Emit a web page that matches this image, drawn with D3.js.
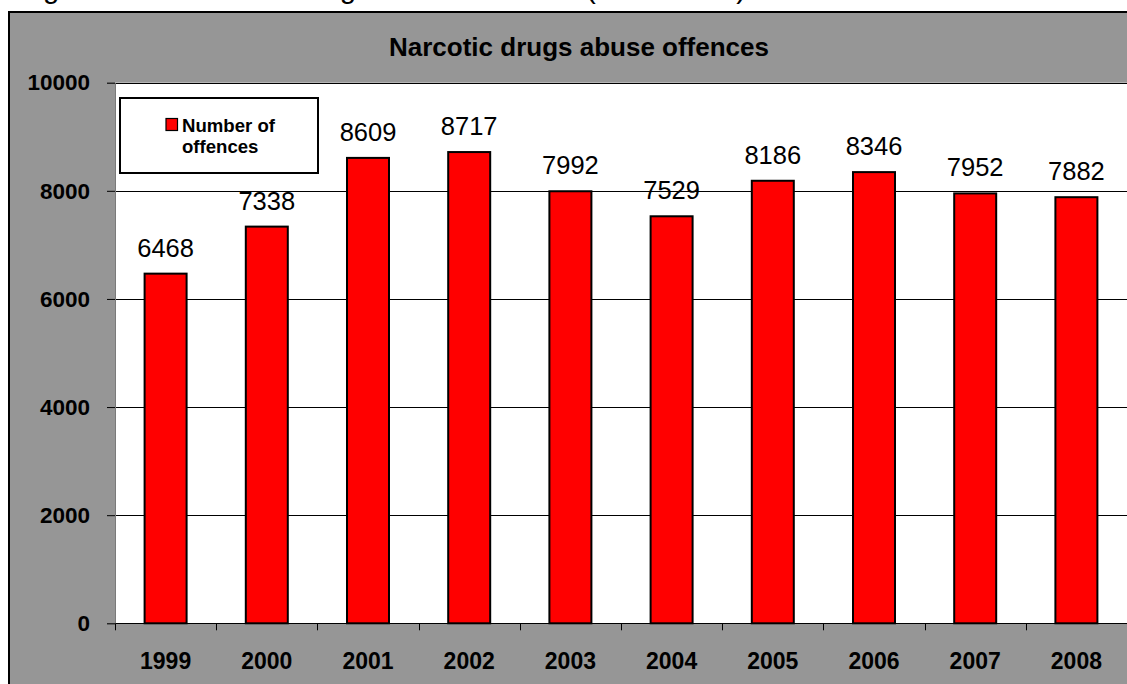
<!DOCTYPE html>
<html>
<head>
<meta charset="utf-8">
<script src="https://cdn.jsdelivr.net/npm/d3@7"></script>
<style>
  html, body { margin: 0; padding: 0; background: #fff; }
  svg { display: block; }
  text { font-family: "Liberation Sans", Arial, Helvetica, sans-serif; }
</style>
</head>
<body>
<script>
// ---- data ----
const years = ["1999","2000","2001","2002","2003","2004","2005","2006","2007","2008"];
const offences = [6468, 7338, 8609, 8717, 7992, 7529, 8186, 8346, 7952, 7882];
const yTicks = [0, 2000, 4000, 6000, 8000, 10000];
const seriesName = ["Number of", "offences"];
const chartTitle = "Narcotic drugs abuse offences";
const captionText = "Figure 4.11: Narcotic drugs abuse offences (1999-2008)";

const W = 1127, H = 684;
const svg = d3.select("body").append("svg").attr("width", W).attr("height", H);

// caption (mostly cut off at the top)
svg.append("text").attr("x", 18.5).attr("y", -2)
  .attr("font-size", 29.4).attr("fill", "#000").text(captionText);

// chart area
svg.append("rect").attr("x", 9).attr("y", 12).attr("width", 1200).attr("height", 760)
  .attr("fill", "#969696").attr("stroke", "#000").attr("stroke-width", 2);

// plot area
const plot = { left: 115, right: 1127, top: 82.7, bottom: 623.3 };
svg.append("rect").attr("x", plot.left).attr("y", plot.top)
  .attr("width", 1140 - plot.left).attr("height", plot.bottom - plot.top)
  .attr("fill", "#fff");

const x = d3.scaleBand().domain(years).range([plot.left, plot.right])
  .paddingInner(0.585).paddingOuter(0.2925);
const y = d3.scaleLinear().domain([0, 10000]).range([plot.bottom, plot.top]);

// gridlines
svg.append("g").selectAll("line").data(yTicks).join("line")
  .attr("x1", plot.left).attr("x2", 1140)
  .attr("y1", d => Math.round(y(d)) + 0.5).attr("y2", d => Math.round(y(d)) + 0.5)
  .attr("stroke", "#000").attr("stroke-width", 1);

// y axis
const yAxis = svg.append("g").attr("transform", `translate(${plot.left},0)`)
  .call(d3.axisLeft(y).tickValues(yTicks).tickSize(8).tickPadding(17).tickFormat(d3.format("d")));
yAxis.select(".domain").attr("stroke", "#7a7a7a");
yAxis.selectAll(".tick line").attr("stroke", "#000");
yAxis.selectAll("text").attr("font-size", 22.5).attr("font-weight", "bold")
  .attr("fill", "#000").attr("font-family", "Liberation Sans, Arial, sans-serif");

// x axis with ticks at category boundaries
const xAxis = svg.append("g").attr("transform", `translate(0,${plot.bottom})`)
  .call(d3.axisBottom(x).tickSize(0).tickPadding(29));
xAxis.select(".domain").remove();
xAxis.selectAll("text").attr("font-size", 23).attr("font-weight", "bold")
  .attr("fill", "#000").attr("font-family", "Liberation Sans, Arial, sans-serif");
const boundaries = years.map(d => x(d) - x.step() * x.paddingInner() / 2 - (x.step() - x.bandwidth() - x.step() * x.paddingInner()) );
svg.append("g").selectAll("line").data(years).join("line")
  .attr("x1", d => Math.round(x(d) + x.bandwidth() / 2 - x.step() / 2) + 0.5)
  .attr("x2", d => Math.round(x(d) + x.bandwidth() / 2 - x.step() / 2) + 0.5)
  .attr("y1", plot.bottom).attr("y2", plot.bottom + 7)
  .attr("stroke", "#000");

// bars
svg.append("g").selectAll("rect").data(years).join("rect")
  .attr("x", d => x(d)).attr("width", x.bandwidth())
  .attr("y", (d, i) => y(offences[i])).attr("height", (d, i) => plot.bottom - y(offences[i]))
  .attr("fill", "#ff0000").attr("stroke", "#000").attr("stroke-width", 2);

// value labels
svg.append("g").selectAll("text").data(years).join("text")
  .attr("x", d => x(d) + x.bandwidth() / 2)
  .attr("y", (d, i) => y(offences[i]) - 17)
  .attr("text-anchor", "middle").attr("font-size", 25.5).attr("fill", "#000")
  .text((d, i) => offences[i]);

// title
svg.append("text").attr("x", 579).attr("y", 56).attr("text-anchor", "middle")
  .attr("font-size", 26).attr("font-weight", "bold").attr("fill", "#000").text(chartTitle);

// legend
const lg = svg.append("g");
lg.append("rect").attr("x", 120).attr("y", 98).attr("width", 198).attr("height", 75)
  .attr("fill", "#fff").attr("stroke", "#000").attr("stroke-width", 2);
lg.append("rect").attr("x", 166).attr("y", 118.5).attr("width", 11.5).attr("height", 12)
  .attr("fill", "#ff0000").attr("stroke", "#000").attr("stroke-width", 1.2);
const lt = lg.append("text").attr("font-size", 18.6).attr("font-weight", "bold").attr("fill", "#000");
lt.selectAll("tspan").data(seriesName).join("tspan")
  .attr("x", 182).attr("y", (d, i) => 131.7 + i * 21.6).text(d => d);
</script>
</body>
</html>
